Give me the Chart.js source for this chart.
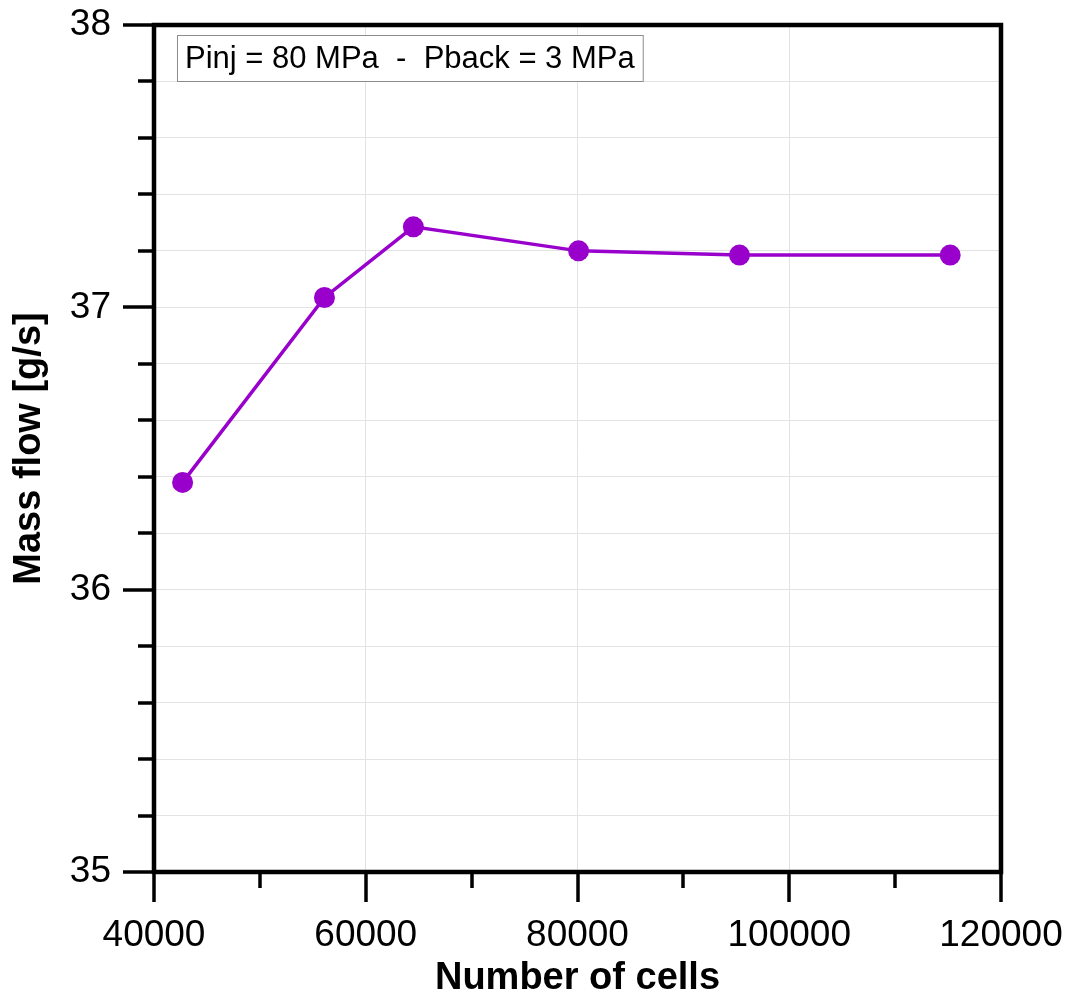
<!DOCTYPE html>
<html>
<head>
<meta charset="utf-8">
<script src="https://cdn.jsdelivr.net/npm/chart.js@4.4.1/dist/chart.umd.min.js"></script>
<style>
  html, body { margin: 0; padding: 0; background: #fff; }
  #wrap { width: 1075px; height: 1003px; }
</style>
</head>
<body>
<div id="wrap"><canvas id="myChart" width="1075" height="1003"></canvas></div>
<script>
// donnees
const cells = [42700, 56100, 64500, 80100, 95300, 115200];
const massFlow = [36.38, 37.035, 37.285, 37.2, 37.185, 37.185];
const xTicks = [40000, 60000, 80000, 100000, 120000];
const yTicks = [35, 36, 37, 38];
const boxText = "Pinj = 80 MPa  -  Pback = 3 MPa";

const purple = "#9900cc";
const fontFam = "'Liberation Sans', Arial, sans-serif";

const points = cells.map((c, i) => ({ x: c, y: massFlow[i] }));

// cadre noir + graduations + encadre du texte
const framePlugin = {
  id: "frame",
  afterDraw(chart) {
    const ctx = chart.ctx;
    const a = chart.chartArea;
    const xs = chart.scales.x;
    const ys = chart.scales.y;
    ctx.save();
    ctx.strokeStyle = "#000";
    ctx.lineWidth = 3.5;
    ctx.lineCap = "butt";
    // ticks x (majeures tous les 20000, mineures tous les 10000)
    for (let v = xTicks[0]; v <= xTicks[xTicks.length - 1]; v += 10000) {
      const px = Math.round(xs.getPixelForValue(v));
      const len = xTicks.includes(v) ? 30 : 16;
      ctx.beginPath();
      ctx.moveTo(px, a.bottom);
      ctx.lineTo(px, a.bottom + len);
      ctx.stroke();
    }
    // ticks y (majeures tous les 1, mineures tous les 0.2)
    for (let k = 0; k <= 15; k++) {
      const v = Math.round((yTicks[0] + k * 0.2) * 10) / 10;
      const py = Math.round(ys.getPixelForValue(v));
      const len = yTicks.includes(v) ? 31 : 16;
      ctx.beginPath();
      ctx.moveTo(a.left, py);
      ctx.lineTo(a.left - len, py);
      ctx.stroke();
    }
    // cadre
    ctx.lineWidth = 4.5;
    ctx.strokeRect(a.left, a.top, a.right - a.left, a.bottom - a.top);

    // encadre
    ctx.font = "31px " + fontFam;
    const w = ctx.measureText(boxText).width;
    const bx = a.left + 23, by = a.top + 10;
    ctx.fillStyle = "#fff";
    ctx.fillRect(bx, by, w + 16, 46);
    ctx.lineWidth = 1;
    ctx.strokeStyle = "#8c8c8c";
    ctx.strokeRect(bx + 0.5, by + 0.5, w + 16, 46);
    ctx.fillStyle = "#000";
    ctx.textBaseline = "middle";
    ctx.fillText(boxText, bx + 8, by + 24);
    ctx.restore();
  }
};

const data = {
  datasets: [
    {
      label: "Mass flow",
      data: points,
      showLine: true,
      borderColor: purple,
      backgroundColor: purple,
      borderWidth: 3.5,
      pointRadius: 10.5,
      pointBorderWidth: 0,
      pointBackgroundColor: purple,
    },
  ],
};

const config = {
  type: "scatter",
  data: data,
  options: {
    responsive: false,
    animation: false,
    layout: { padding: { top: 25, right: 74, left: 0, bottom: 0 } },
    plugins: {
      legend: { display: false },
      tooltip: { enabled: false },
    },
    scales: {
      x: {
        type: "linear",
        min: 40000,
        max: 120000,
        afterFit: (s) => {
          s.height = 131;
          s.paddingLeft = 0;
          s.paddingRight = 0;
        },
        border: { display: false },
        grid: { color: "#e3e3e3", lineWidth: 1, drawTicks: false },
        ticks: {
          stepSize: 20000,
          autoSkip: false,
          maxRotation: 0,
          padding: 42,
          color: "#000",
          font: { family: fontFam, size: 37 },
          callback: (v) => (xTicks.includes(v) ? String(v) : ""),
        },
        title: {
          display: true,
          text: "Number of cells",
          color: "#000",
          font: { family: fontFam, size: 38, weight: "bold", lineHeight: 1 },
          padding: { top: 0, bottom: 5 },
        },
      },
      y: {
        min: 35,
        max: 38,
        afterFit: (s) => {
          s.width = 154;
          s.paddingTop = 0;
          s.paddingBottom = 0;
        },
        border: { display: false },
        grid: { color: "#e3e3e3", lineWidth: 1, drawTicks: false },
        ticks: {
          stepSize: 0.2,
          autoSkip: false,
          padding: 43,
          color: "#000",
          font: { family: fontFam, size: 37 },
          callback: (v) => {
            const r = Math.round(v * 1000) / 1000;
            return yTicks.includes(r) ? String(r) : "";
          },
        },
        title: {
          display: true,
          text: "Mass flow [g/s]",
          color: "#000",
          font: { family: fontFam, size: 38, weight: "bold", lineHeight: 1 },
          padding: { top: 11, bottom: 0 },
        },
      },
    },
  },
  plugins: [framePlugin],
};

let context = document.getElementById("myChart").getContext("2d");
let chart = new Chart(context, config);
</script>
</body>
</html>
